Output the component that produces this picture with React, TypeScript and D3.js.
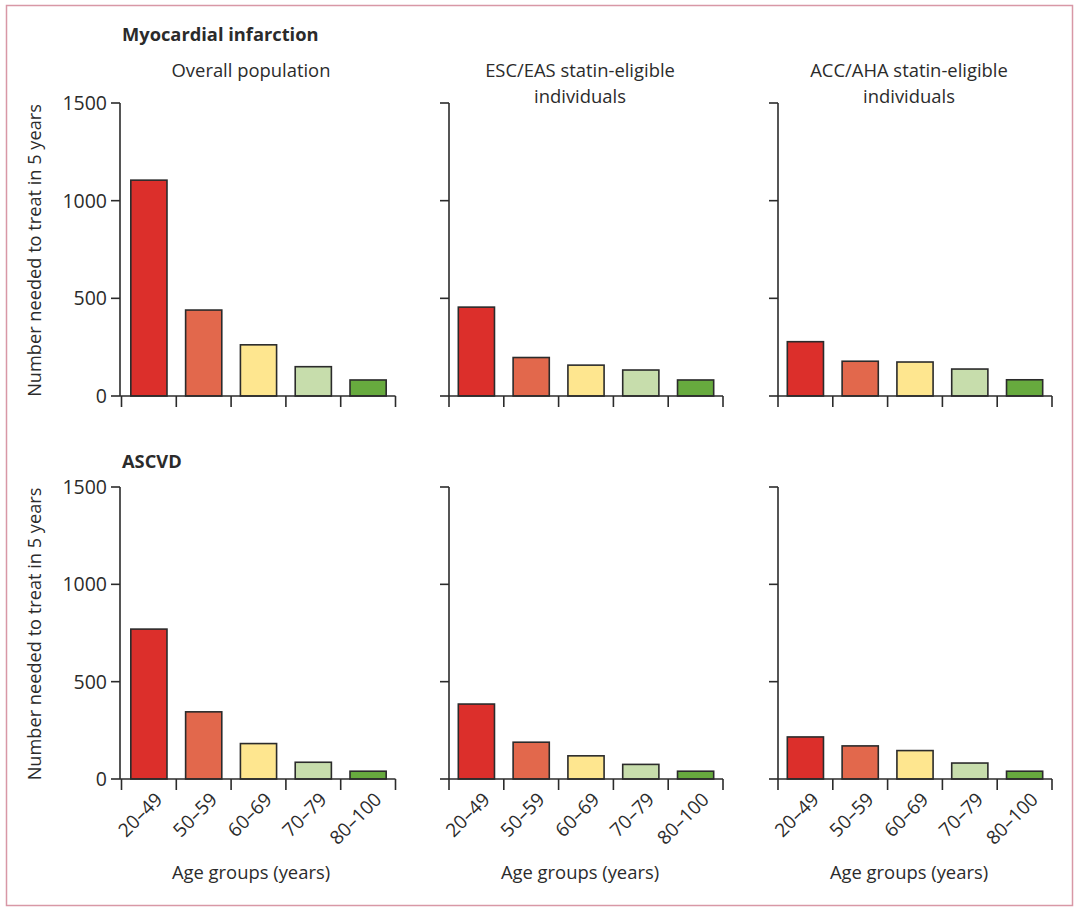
import React from "react";
import * as d3 from "d3";

const ageGroups = ["20–49", "50–59", "60–69", "70–79", "80–100"];
const barColors = ["#dc2f2b", "#e2684c", "#fee68f", "#c7ddac", "#67aa3e"];
const yTicks = [0, 500, 1000, 1500];

const panelTitles = [["Overall population"], ["ESC/EAS statin-eligible", "individuals"], ["ACC/AHA statin-eligible", "individuals"]];
const rowTitles = ["Myocardial infarction", "ASCVD"];

const miOverall = [1105, 440, 262, 150, 82];
const miESC = [455, 197, 158, 133, 82];
const miACC = [278, 178, 174, 138, 83];
const ascvdOverall = [770, 345, 182, 86, 40];
const ascvdESC = [385, 189, 119, 75, 40];
const ascvdACC = [216, 170, 146, 82, 40];

const rows = [
  [miOverall, miESC, miACC],
  [ascvdOverall, ascvdESC, ascvdACC],
];

const FONT = "'Open Sans', 'Noto Sans', sans-serif";
const INK = "#2b2b2b";

export default function App() {
  const W = 1080, H = 914;
  const panelX0 = [120, 449, 778];
  const rowY = [{ top: 103, bottom: 396 }, { top: 487, bottom: 779 }];
  const plotW = 274;

  return (
    <svg width={W} height={H} style={{ position: "absolute", left: 0, top: 0, background: "#fff" }} fontFamily={FONT}>
      <rect x={6.5} y={5.5} width={1066} height={900} fill="none" stroke="#d898a6" strokeWidth={1.5} />
      {rows.map((rowData, r) => {
        const y = d3.scaleLinear().domain([0, 1500]).range([rowY[r].bottom, rowY[r].top]);
        return (
          <g key={r}>
            <text x={122} y={r === 0 ? 41 : 468} fontSize={18.3} fontWeight={700} fill={INK}>{rowTitles[r]}</text>
            <text transform={`translate(41,${(rowY[r].top + rowY[r].bottom) / 2 + 1}) rotate(-90)`} textAnchor="middle" fontSize={18.2} fill={INK}>
              Number needed to treat in 5 years
            </text>
            {rowData.map((vals, p) => {
              const x0 = panelX0[p];
              const x = d3.scaleBand().domain(ageGroups).range([x0 + (p === 0 ? 1.5 : 0), x0 + plotW + (p === 0 ? 1.5 : 0)]).paddingInner(0.34).paddingOuter(0.17);
              const step = x.step();
              const start = x.range()[0];
              const cx = x0 + 131;
              return (
                <g key={p}>
                  {r === 0 && panelTitles[p].map((t, i) => (
                    <text key={i} x={cx} y={77 + i * 26} textAnchor="middle" fontSize={18.4} fill={INK}>{t}</text>
                  ))}
                  {vals.map((v, i) => (
                    <rect key={i} x={x(ageGroups[i])!} y={y(v)} width={x.bandwidth()} height={y(0) - y(v)}
                      fill={barColors[i]} stroke={INK} strokeWidth={1.6} />
                  ))}
                  <line x1={x0} x2={x0} y1={y(1500)} y2={y(0)} stroke={INK} strokeWidth={1.6} />
                  {yTicks.map((t) => (
                    <g key={t}>
                      <line x1={x0 - 9} x2={x0} y1={y(t)} y2={y(t)} stroke={INK} strokeWidth={1.6} />
                      {p === 0 && (
                        <text x={x0 - 13} y={y(t)} dy="0.36em" textAnchor="end" fontSize={19.5} fill={INK}>{t}</text>
                      )}
                    </g>
                  ))}
                  <line x1={x0} x2={start + step * 5} y1={y(0)} y2={y(0)} stroke={INK} strokeWidth={1.6} />
                  {d3.range(6).map((k) => (
                    <line key={k} x1={start + step * k} x2={start + step * k} y1={y(0)} y2={y(0) + 11} stroke={INK} strokeWidth={1.6} />
                  ))}
                  {r === 1 && ageGroups.map((g) => {
                    const c = x(g)! + x.bandwidth() / 2;
                    return (
                      <text key={g} transform={`translate(${c + 10},${y(0) + 17}) rotate(-45)`} textAnchor="end" dy="0.35em" fontSize={19} fill={INK}>{g}</text>
                    );
                  })}
                  {r === 1 && (
                    <text x={cx} y={879} textAnchor="middle" fontSize={18.4} fill={INK}>Age groups (years)</text>
                  )}
                </g>
              );
            })}
          </g>
        );
      })}
    </svg>
  );
}
